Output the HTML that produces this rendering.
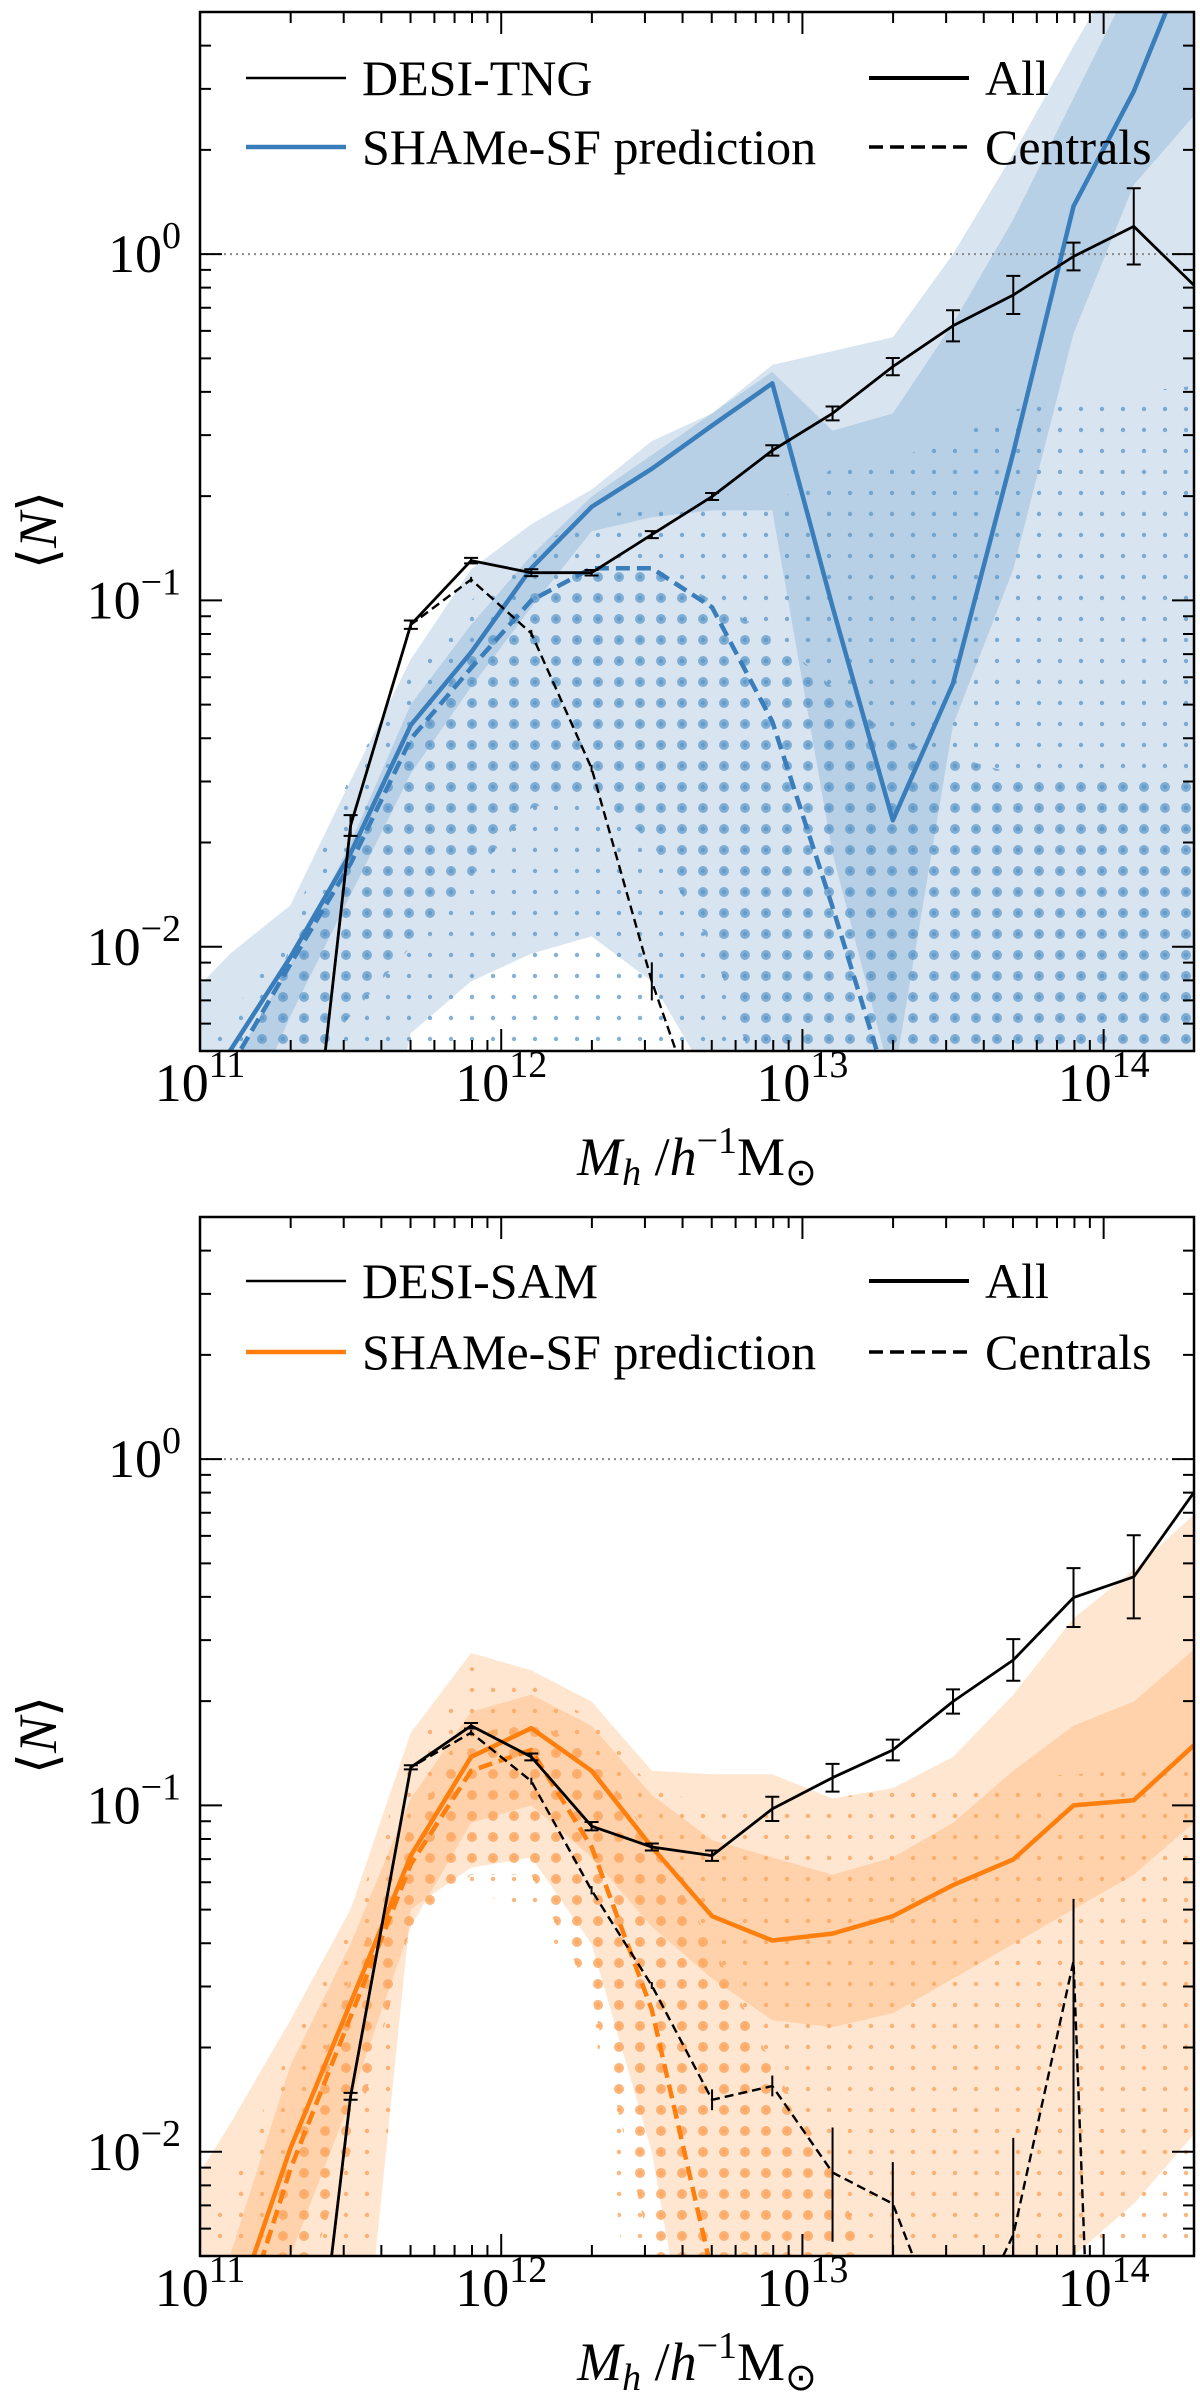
<!DOCTYPE html>
<html><head><meta charset="utf-8">
<style>
html,body{margin:0;padding:0;background:#fff;width:1200px;height:2406px;overflow:hidden;}
svg{display:block;font-family:"Liberation Serif",serif;}
text{font-family:"Liberation Serif",serif;}
</style></head>
<body>
<svg id="fig" width="1200" height="2406" viewBox="0 0 1200 2406" xmlns="http://www.w3.org/2000/svg">
<defs>
<pattern id="dotsSmallBlue" width="21" height="21" patternUnits="userSpaceOnUse"><circle cx="10" cy="10" r="2.2" fill="#5a96c8" opacity="0.75"/></pattern>
<pattern id="dotsBigBlue" width="21" height="21" patternUnits="userSpaceOnUse"><circle cx="10" cy="10" r="5" fill="#5a96c8" opacity="0.7"/></pattern>
<pattern id="dotsSmallOrange" width="21" height="21" patternUnits="userSpaceOnUse"><circle cx="10" cy="10" r="2.2" fill="#fca863" opacity="0.85"/></pattern>
<pattern id="dotsBigOrange" width="21" height="21" patternUnits="userSpaceOnUse"><circle cx="10" cy="10" r="5" fill="#fca863" opacity="0.85"/></pattern>
<clipPath id="clipTop"><rect x="200" y="12" width="994" height="1039"/></clipPath>
<clipPath id="clipBot"><rect x="200" y="1217" width="994" height="1039"/></clipPath>
</defs>
</svg>
<script>
// shared mass bins (log10 Mh)
const massBins = [10.9,11.1,11.3,11.5,11.7,11.9,12.1,12.3,12.5,12.7,12.9,13.1,13.3,13.5,13.7,13.9,14.1,14.3];
const xTickExps = [11,12,13,14];
const yTickExps = [-2,-1,0];

// ---- top panel (DESI-TNG), log10 <N> ----
const tngAll = [-4,-4,-3.2,-1.65,-1.07,-0.885,-0.92,-0.92,-0.81,-0.70,-0.567,-0.46,-0.325,-0.207,-0.118,-0.007,0.08,-0.09];
const tngAllErr = [0,0,0,0.03,0.012,0.008,0.01,0.008,0.01,0.01,0.015,0.02,0.025,0.045,0.055,0.04,0.11,0];
const tngCen = [-4,-4,-3.2,-1.65,-1.07,-0.94,-1.095,-1.485,-2.10,-2.6,-4,-4,-4,-4,-4,-4,-4,-4];
const tngCenErrUp = [0,0,0,0.03,0.012,0.008,0.01,0.01,0.055,0,0,0,0,0,0,0,0,0];
const tngCenErrDn = [0,0,0,0.03,0.012,0.008,0.01,0.01,0.055,0,0,0,0,0,0,0,0,0];
const tngShameAll = [-2.7,-2.3,-2.03,-1.73,-1.36,-1.15,-0.907,-0.73,-0.62,-0.495,-0.373,-1.018,-1.635,-1.24,-0.573,0.138,0.47,0.9];
const tngShameCen = [-2.8,-2.35,-2.05,-1.76,-1.40,-1.195,-1.0,-0.907,-0.907,-1.02,-1.35,-1.885,-2.45,-3,-3,-3,-3,-3];
const tngAllOuterHi = [-2.2,-2.02,-1.88,-1.52,-1.17,-0.91,-0.78,-0.68,-0.54,-0.46,-0.32,-0.28,-0.24,0.0,0.29,0.6,0.9,1.0];
const tngAllOuterLo = [-3,-3,-3,-3,-2.25,-2.1,-2.02,-1.97,-2.1,-2.4,-3,-3,-3,-3,-3,-3,-3,-3];
const tngAllInnerHi = [-2.6,-2.35,-2.05,-1.70,-1.30,-1.07,-0.87,-0.70,-0.58,-0.46,-0.34,-0.51,-0.46,-0.2,0.1,0.45,0.8,1.0];
const tngAllInnerLo = [-3,-2.6,-2.2,-1.85,-1.5,-1.25,-1.02,-0.8,-0.76,-0.74,-0.74,-1.73,-2.4,-1.36,-0.91,-0.23,0.2,0.4];
const tngCenOuterHi = [-2.4,-2.2,-1.95,-1.5,-1.2,-1.0,-0.85,-0.76,-0.73,-0.72,-0.72,-0.62,-0.6,-0.52,-0.45,-0.42,-0.40,-0.38];
const tngCenOuterLo = [-3,-3,-3,-3,-3,-3,-3,-3,-3,-3,-3,-3,-3,-3,-3,-3,-3,-3];
const tngCenInnerHi = [-3,-2.4,-2.0,-1.75,-1.4,-1.15,-0.98,-0.9,-0.9,-1.0,-1.1,-1.25,-1.4,-1.45,-1.5,-1.5,-1.5,-1.5];
const tngCenInnerLo = [-3,-3,-2.4,-2.2,-2.0,-1.8,-1.6,-1.55,-1.7,-2.0,-2.5,-3,-3,-3,-3,-3,-3,-3];

// ---- bottom panel (DESI-SAM), log10 <N> ----
const samAll = [-4,-4,-3.3,-1.84,-0.89,-0.77,-0.86,-1.06,-1.12,-1.145,-1.01,-0.92,-0.84,-0.70,-0.58,-0.40,-0.34,-0.096];
const samAllErr = [0,0,0,0.01,0.006,0.008,0.01,0.012,0.01,0.015,0.035,0.04,0.03,0.035,0.06,0.085,0.12,0];
const samCen = [-4,-4,-3.3,-1.84,-0.89,-0.79,-0.93,-1.245,-1.52,-1.85,-1.81,-2.06,-2.15,-2.6,-2.24,-1.45,-30,-30];
const samCenErrUp = [0,0,0,0.01,0.006,0.008,0.01,0.012,0.01,0.03,0.03,0.13,0.12,0,0.28,0.18,0,0];
const samCenErrDn = [0,0,0,0.01,0.006,0.008,0.01,0.012,0.01,0.03,0.03,0.2,0.3,0,0.5,1.0,0,0];
const samShameAll = [-2.8,-2.5,-1.99,-1.57,-1.145,-0.86,-0.777,-0.90,-1.12,-1.32,-1.39,-1.37,-1.32,-1.23,-1.156,-1.0,-0.985,-0.826];
const samShameCen = [-3,-2.6,-2.05,-1.61,-1.17,-0.90,-0.84,-1.12,-1.59,-2.35,-3,-3,-3,-3,-3,-3,-3,-3];
const samAllOuterHi = [-2.2,-1.92,-1.62,-1.30,-0.79,-0.56,-0.61,-0.70,-0.90,-0.91,-0.91,-0.98,-0.95,-0.86,-0.68,-0.46,-0.32,-0.16];
const samAllOuterLo = [-3,-3,-3,-3,-1.3,-1.18,-1.15,-1.4,-2.0,-3,-3,-3,-3,-3,-2.5,-2.3,-2.15,-1.95];
const samAllInnerHi = [-2.6,-2.3,-1.75,-1.4,-0.98,-0.73,-0.68,-0.77,-0.97,-1.1,-1.15,-1.2,-1.15,-1.05,-0.9,-0.77,-0.70,-0.55];
const samAllInnerLo = [-3,-2.6,-2.3,-1.85,-1.35,-1.05,-1.0,-1.15,-1.35,-1.5,-1.62,-1.64,-1.6,-1.5,-1.4,-1.3,-1.2,-1.05];
const samCenOuterHi = [-2.4,-2.1,-1.7,-1.35,-0.85,-0.6,-0.65,-0.75,-0.95,-1.0,-1.0,-0.98,-0.95,-0.93,-0.92,-0.91,-0.9,-0.9];
const samCenOuterLo = [-3,-3,-3,-3,-1.3,-1.25,-1.3,-1.55,-3,-3,-3,-3,-3,-3,-3,-3,-3,-3];
const samCenInnerHi = [-3,-2.6,-2.0,-1.5,-1.05,-0.8,-0.75,-0.85,-1.1,-1.4,-1.75,-2.05,-2.5,-3,-3,-3,-3,-3];
const samCenInnerLo = [-3,-3,-2.5,-2.0,-1.35,-1.2,-1.2,-1.55,-2.3,-3,-3,-3,-3,-3,-3,-3,-3,-3];

const NS = "http://www.w3.org/2000/svg";
const svg = document.getElementById('fig');
function mk(tag, attrs, parent){
  const e = document.createElementNS(NS, tag);
  for (const k in attrs) e.setAttribute(k, attrs[k]);
  (parent||svg).appendChild(e);
  return e;
}
const FONT = '"Liberation Serif", serif';
const X0 = 200, X1 = 1194, XMIN = 11, XMAX = 14.3;
const YMIN = -2.301, YMAX = 0.699;
function xScale(l){ return X0 + (l - XMIN) / (XMAX - XMIN) * (X1 - X0); }

function drawPanel(P){
  const top = P.top, bot = P.top + 1039;
  function yScale(l){ return bot - (l - YMIN) / (YMAX - YMIN) * (bot - top); }
  const g = mk('g', {'clip-path': 'url(#' + P.clip + ')'});
  
  
  function band(hi, lo, fill, name){
    let d = '';
    for (let i = 0; i < massBins.length; i++) d += (i ? 'L' : 'M') + xScale(massBins[i]).toFixed(1) + ',' + yScale(hi[i]).toFixed(1);
    for (let i = massBins.length - 1; i >= 0; i--) d += 'L' + xScale(massBins[i]).toFixed(1) + ',' + yScale(lo[i]).toFixed(1);
    const p = mk('path', {d: d + 'Z', fill: fill, stroke: 'none'}, g);
    
    
  }
  function line(vals, color, w, dash, name){
    let d = '';
    for (let i = 0; i < massBins.length; i++) d += (i ? 'L' : 'M') + xScale(massBins[i]).toFixed(1) + ',' + yScale(Math.max(vals[i], -6)).toFixed(1);
    const p = mk('path', {d: d, fill: 'none', stroke: color, 'stroke-width': w, 'stroke-linejoin': 'round'}, g);
    if (dash) p.setAttribute('stroke-dasharray', dash);
    
    
  }
  function errs(vals, up, dn, cap, name){
    for (let i = 0; i < massBins.length; i++){
      if (!up[i] && !dn[i]) continue;
      const x = xScale(massBins[i]);
      const y1 = yScale(vals[i] + up[i]), y2 = yScale(vals[i] - dn[i]);
      const e = mk('path', {d: 'M' + x + ',' + y1 + 'V' + y2 + (cap ? 'M' + (x - 7) + ',' + y1 + 'H' + (x + 7) + 'M' + (x - 7) + ',' + y2 + 'H' + (x + 7) : ''), stroke: '#000', 'stroke-width': 2, fill: 'none'}, g);
      
      
    }
  }
  band(P.allOuterHi, P.allOuterLo, P.fill, 'shame-all-outer-band');
  band(P.allInnerHi, P.allInnerLo, P.fill, 'shame-all-inner-band');
  band(P.cenOuterHi, P.cenOuterLo, 'url(#' + P.dotS + ')', 'shame-centrals-outer-band');
  band(P.cenInnerHi, P.cenInnerLo, 'url(#' + P.dotB + ')', 'shame-centrals-inner-band');
  const ref = mk('line', {x1: X0, x2: X1, y1: yScale(0), y2: yScale(0), stroke: '#888', 'stroke-width': 2, 'stroke-dasharray': '2,4'}, g);
  
  
  line(P.shameCen, P.color, 4.5, '14,7', 'shame-centrals-line');
  line(P.shameAll, P.color, 4.5, null, 'shame-all-line');
  line(P.cen, '#000', 2.4, '9,5', 'desi-centrals-line');
  line(P.all, '#000', 2.8, null, 'desi-all-line');
  errs(P.all, P.allErr, P.allErr, true, 'desi-all-errorbar');
  errs(P.cen, P.cenErrUp, P.cenErrDn, false, 'desi-centrals-errorbar');

  const fr = mk('rect', {x: X0, y: top, width: X1 - X0, height: bot - top, fill: 'none', stroke: '#000', 'stroke-width': 2.5});
  
  
  let td = '';
  for (let e = 11; e <= 14; e++) for (let m = 1; m <= 9; m++){
    const l = e + Math.log10(m); if (l > XMAX) continue;
    const x = xScale(l), len = m === 1 ? 22 : 11;
    td += 'M' + x + ',' + bot + 'v' + (-len) + 'M' + x + ',' + top + 'v' + len;
  }
  for (let e = -3; e <= 0; e++) for (let m = 1; m <= 9; m++){
    const l = e + Math.log10(m); if (l < YMIN || l > YMAX) continue;
    const y = yScale(l), len = m === 1 ? 22 : 11;
    td += 'M' + X0 + ',' + y + 'h' + len + 'M' + X1 + ',' + y + 'h' + (-len);
  }
  const tk = mk('path', {d: td, stroke: '#000', 'stroke-width': 2, fill: 'none'});
  
  
  xTickExps.forEach(function(ex){
    const t = mk('text', {x: xScale(ex), y: bot + 50, 'font-size': 54, 'text-anchor': 'middle', 'font-family': FONT});
    
    
    t.innerHTML = '10<tspan font-size="38" dy="-24">' + ex + '</tspan>';
  });
  yTickExps.forEach(function(ex){
    const t = mk('text', {x: 181, y: yScale(ex) + 18, 'font-size': 54, 'text-anchor': 'end', 'font-family': FONT});
    
    
    t.innerHTML = '10<tspan font-size="38" dy="-24">' + (ex < 0 ? '\u2212' + (-ex) : ex) + '</tspan>';
  });
  const yl = mk('text', {x: 0, y: 0, 'font-size': 54, 'text-anchor': 'middle', 'font-family': FONT, transform: 'translate(56,' + (top + 518) + ') rotate(-90)'});
  
  
  yl.innerHTML = '\u27E8<tspan font-style="italic">N</tspan>\u27E9';
  const xl = mk('text', {x: 697, y: bot + 124, 'font-size': 54, 'text-anchor': 'middle', 'font-family': FONT});
  
  
  xl.innerHTML = '<tspan font-style="italic">M</tspan><tspan font-style="italic" font-size="38" dy="10">h</tspan><tspan dy="-10"> /</tspan><tspan font-style="italic">h</tspan><tspan font-size="38" dy="-22">\u22121</tspan><tspan dy="22">M</tspan><tspan font-size="38" dy="10">\u2299</tspan>';
  const lg = mk('g', {});
  
  
  const r1 = top + P.leg1, r2 = top + P.leg2;
  const entries = [
    [246, r1, '#000', 2.6, null, P.label, 'legend-entry-desi'],
    [246, r2, P.color, 4.5, null, 'SHAMe-SF prediction', 'legend-entry-shame'],
    [869, r1, '#000', 4, null, 'All', 'legend-entry-all'],
    [869, r2, '#000', 3.5, '14,7', 'Centrals', 'legend-entry-centrals']
  ];
  entries.forEach(function(en){
    const eg = mk('g', {}, lg);
    
    
    const ln = mk('line', {x1: en[0], x2: en[0] + 100, y1: en[1], y2: en[1], stroke: en[2], 'stroke-width': en[3]}, eg);
    if (en[4]) ln.setAttribute('stroke-dasharray', en[4]);
    const t = mk('text', {x: en[0] + 116, y: en[1] + 17, 'font-size': 50, 'font-family': FONT}, eg);
    t.textContent = en[5];
  });
}

drawPanel({name: 'top-panel', top: 12, clip: 'clipTop', color: '#3a7dbb', fill: 'rgba(58,125,187,0.2)',
  dotS: 'dotsSmallBlue', dotB: 'dotsBigBlue', label: 'DESI-TNG', leg1: 66, leg2: 135,
  all: tngAll, allErr: tngAllErr, cen: tngCen, cenErrUp: tngCenErrUp, cenErrDn: tngCenErrDn,
  shameAll: tngShameAll, shameCen: tngShameCen,
  allOuterHi: tngAllOuterHi, allOuterLo: tngAllOuterLo, allInnerHi: tngAllInnerHi, allInnerLo: tngAllInnerLo,
  cenOuterHi: tngCenOuterHi, cenOuterLo: tngCenOuterLo, cenInnerHi: tngCenInnerHi, cenInnerLo: tngCenInnerLo});
drawPanel({name: 'bottom-panel', top: 1217, clip: 'clipBot', color: '#ff7f0e', fill: 'rgba(255,140,40,0.22)',
  dotS: 'dotsSmallOrange', dotB: 'dotsBigOrange', label: 'DESI-SAM', leg1: 64, leg2: 135,
  all: samAll, allErr: samAllErr, cen: samCen, cenErrUp: samCenErrUp, cenErrDn: samCenErrDn,
  shameAll: samShameAll, shameCen: samShameCen,
  allOuterHi: samAllOuterHi, allOuterLo: samAllOuterLo, allInnerHi: samAllInnerHi, allInnerLo: samAllInnerLo,
  cenOuterHi: samCenOuterHi, cenOuterLo: samCenOuterLo, cenInnerHi: samCenInnerHi, cenInnerLo: samCenInnerLo});
</script>
</body></html>
